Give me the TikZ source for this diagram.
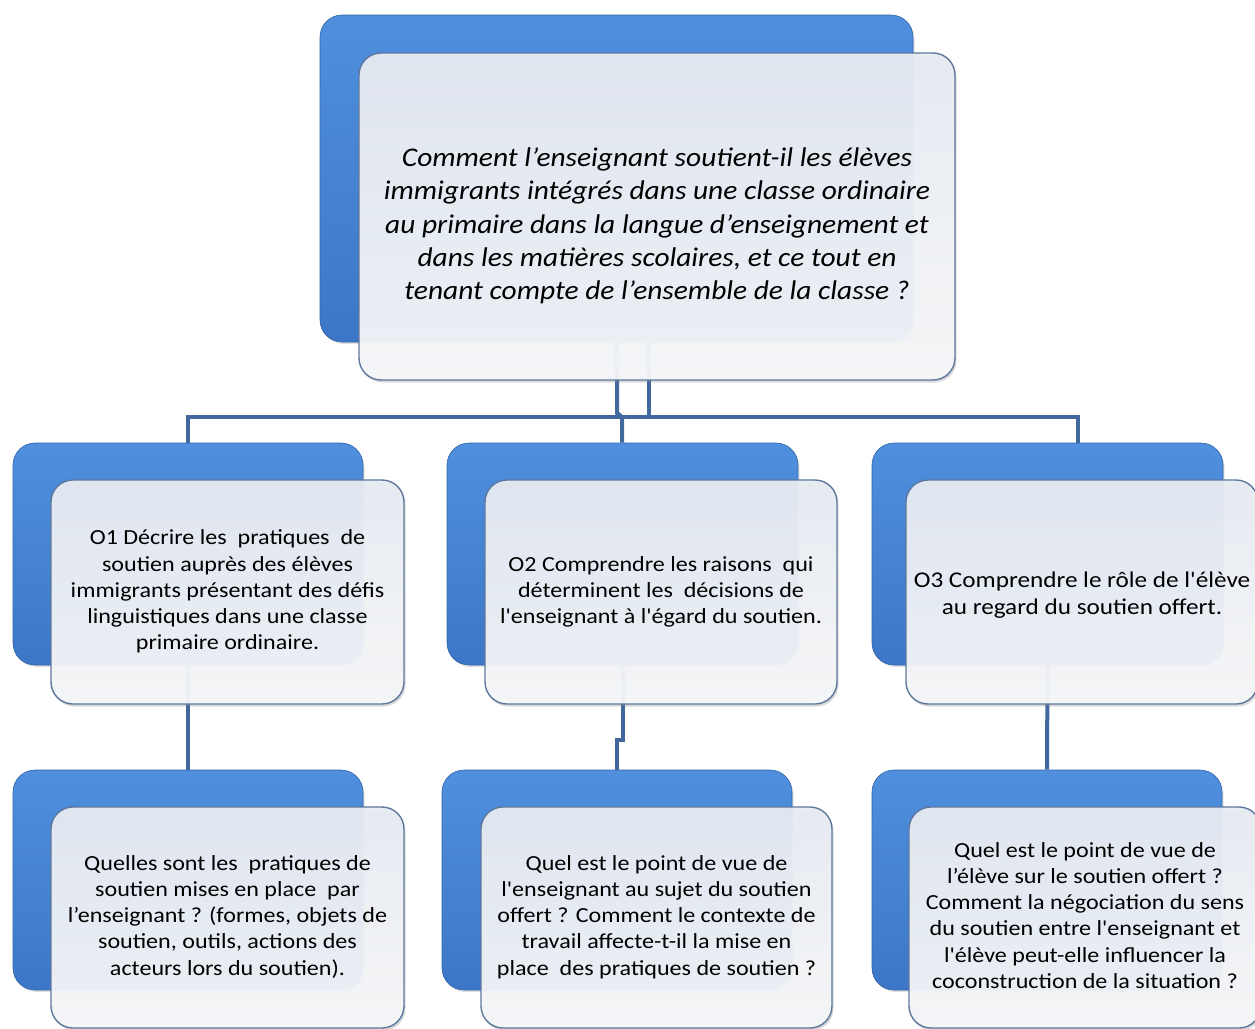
\documentclass[tikz,border=0pt]{standalone}
\usepackage{fontspec}
\usepackage{graphicx}
\setmainfont{Carlito}[Ligatures=TeXOff]
\usetikzlibrary{shadows}
\pgfdeclarelayer{bg}
\pgfsetlayers{bg,main}
\definecolor{connblue}{HTML}{41699E}
\definecolor{backtop}{HTML}{4F8FDD}
\definecolor{backbot}{HTML}{3C77C7}
\definecolor{fronttop}{HTML}{E8ECF3}
\definecolor{frontbot}{HTML}{F7F8FA}
\definecolor{frontedge}{HTML}{5E779C}
\newcommand{\boxtext}[2][1.12]{\scalebox{#1}[1]{\begin{tabular}{@{}c@{}}#2\end{tabular}}}
\tikzset{
  conn/.style={draw=connblue, line width=4pt},
  backbox/.style={rectangle, rounded corners=22pt, inner sep=0pt,
    top color=backtop, bottom color=backbot, draw=backbot!85!black, line width=0.6pt,
    drop shadow={shadow xshift=1.5pt, shadow yshift=-2pt, opacity=.25}},
  frontbox/.style={rectangle, rounded corners=22pt, inner sep=0pt,
    top color=fronttop, bottom color=frontbot, fill opacity=0.94, text opacity=1,
    draw=frontedge, line width=1.4pt, align=center, text=black,
    font=\fontsize{21.5}{26.2}\selectfont,
    drop shadow={shadow xshift=1.5pt, shadow yshift=-2.5pt, opacity=.3}},
}
\begin{document}
\begin{tikzpicture}[x=1pt, y=-1pt]
\useasboundingbox (0,0) rectangle (1255,1028);
% top question
\node[backbox, minimum width=593pt, minimum height=327pt] (qback) at (616.5,178.5) {};
\node[frontbox, minimum width=596pt, minimum height=327pt, font=\fontsize{27}{33.3}\selectfont\itshape] (qfront) at (657,216.5)
  {\raisebox{-10pt}[\height][\depth]{\boxtext[1.09]{Comment l’enseignant soutient-il les élèves\\immigrants intégrés dans une classe ordinaire\\au primaire dans la langue d’enseignement et\\dans les matières scolaires, et ce tout en\\tenant compte de l’ensemble de la classe ?}}};
% objectives
\node[backbox, minimum width=350pt, minimum height=222pt] (o1back) at (188,554) {};
\node[frontbox, minimum width=353pt, minimum height=224pt] (o1front) at (227.5,592)
  {\boxtext{O1 Décrire les~ pratiques~ de\\soutien auprès des élèves\\immigrants présentant des défis\\linguistiques dans une classe\\primaire ordinaire.}};
\node[backbox, minimum width=351pt, minimum height=222pt] (o2back) at (622.5,554) {};
\node[frontbox, minimum width=352pt, minimum height=224pt] (o2front) at (661,592)
  {\boxtext{O2 Comprendre les raisons~ qui\\déterminent les~ décisions de\\l'enseignant à l'égard du soutien.}};
\node[backbox, minimum width=351pt, minimum height=222pt] (o3back) at (1047.5,554) {};
\node[frontbox, minimum width=352pt, minimum height=224pt, font=\fontsize{22.5}{27}\selectfont] (o3front) at (1082,592)
  {\raisebox{-4pt}[\height][\depth]{\boxtext{O3 Comprendre le rôle de l'élève\\au regard du soutien offert.}}};
% research questions
\node[backbox, minimum width=350pt, minimum height=220pt] (r1back) at (188,880) {};
\node[frontbox, minimum width=353pt, minimum height=221pt] (r1front) at (227.5,917.5)
  {\boxtext{Quelles sont les~ pratiques de\\soutien mises en place~ par\\l’enseignant ? (formes, objets de\\soutien, outils, actions des\\acteurs lors du soutien).}};
\node[backbox, minimum width=350pt, minimum height=220pt] (r2back) at (617,880) {};
\node[frontbox, minimum width=351pt, minimum height=221pt] (r2front) at (656.5,917.5)
  {\boxtext{Quel est le point de vue de\\l'enseignant au sujet du soutien\\offert ? Comment le contexte de\\travail affecte-t-il la mise en\\place~ des pratiques de soutien ?}};
\node[backbox, minimum width=350pt, minimum height=220pt] (r3back) at (1047,880) {};
\node[frontbox, minimum width=352pt, minimum height=221pt] (r3front) at (1085,917.5)
  {\boxtext{Quel est le point de vue de\\l’élève sur le soutien offert ?\\Comment la négociation du sens\\du soutien entre l'enseignant et\\l'élève peut-elle influencer la\\coconstruction de la situation ?}};
% connectors
\coordinate (bL) at (188,417);
\coordinate (bR) at (1078,417);
\coordinate (bM) at (622,417);
\coordinate (sA) at (617,413);
\coordinate (sB) at (649,417);
\begin{pgfonlayer}{bg}
\draw[conn] (bL |- o1back.north) -- (bL) -- (bR) -- (bR |- o3back.north);
\draw[conn] (sA |- qback.south) -- (sA) -- (bM) -- (bM |- o2back.north);
\draw[conn] (sB |- qback.south) -- (sB);
\draw[conn] (o1back.south) -- (r1back.north);
\draw[conn] (o2back.south) -- ++(0,75) -| (r2back.north);
\draw[conn] (o3back.south) -- (r3back.north);
\end{pgfonlayer}
\end{tikzpicture}
\end{document}
